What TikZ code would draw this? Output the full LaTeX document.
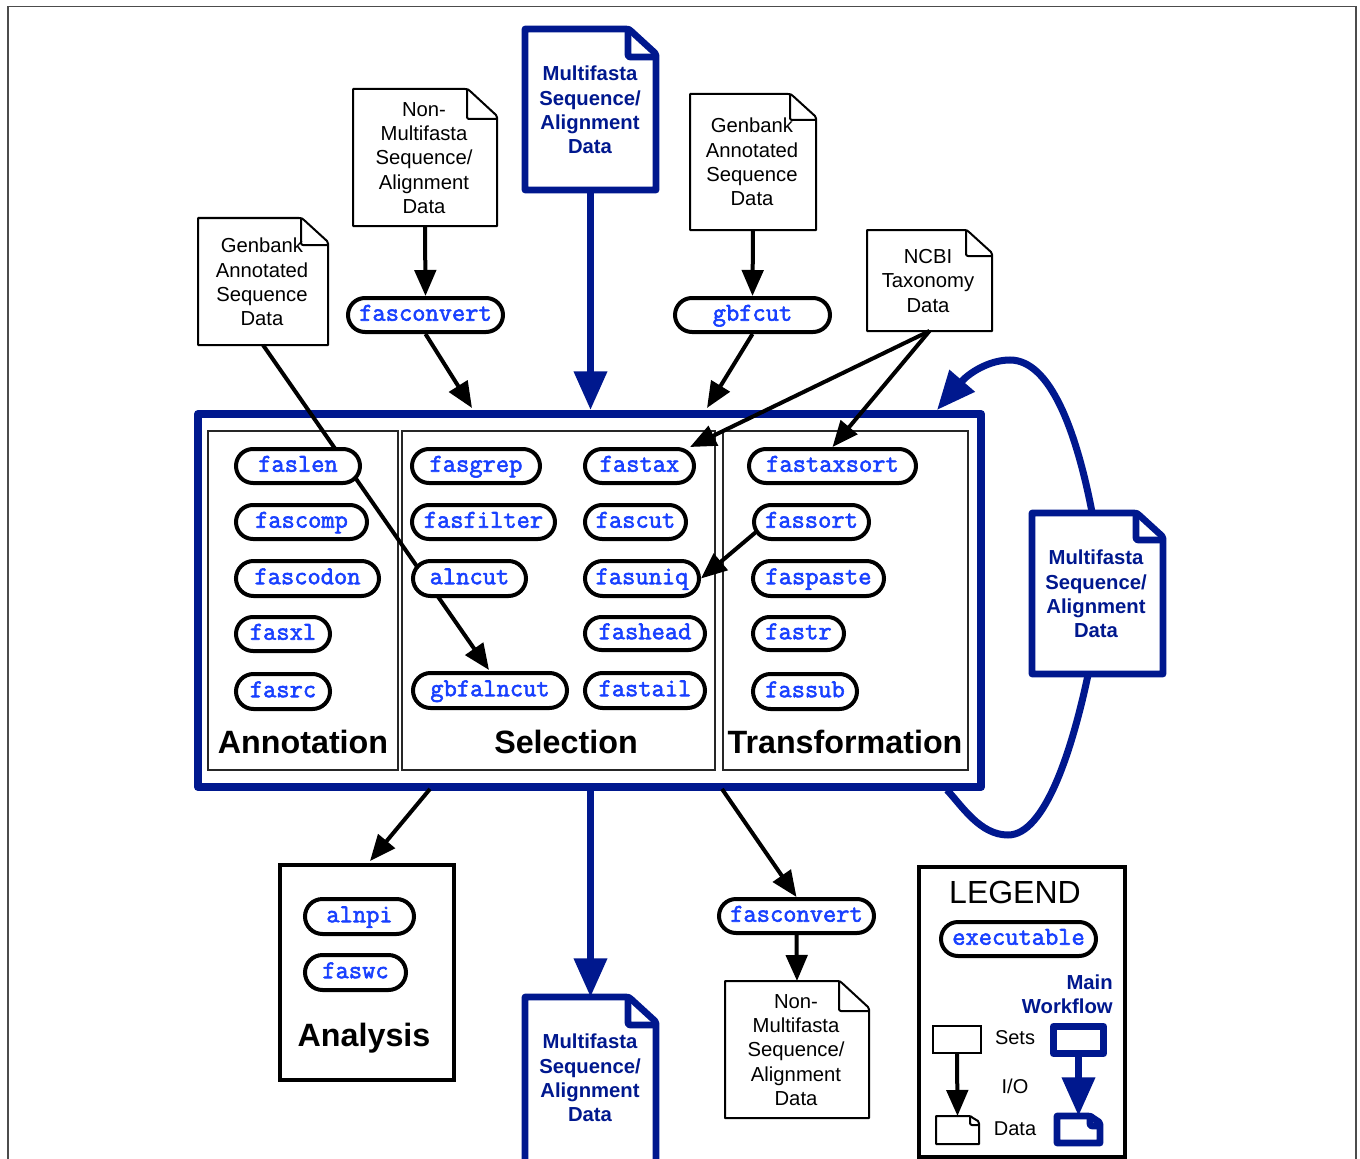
\documentclass[tikz,border=0pt]{standalone}
\usepackage{fontspec}
\setmainfont{Liberation Sans}
\newfontfamily\pillfont[FakeBold=2.2]{Latin Modern Mono}
\usetikzlibrary{arrows.meta,shapes.misc}
\definecolor{navy}{RGB}{0,24,142}
\definecolor{pillblue}{RGB}{24,64,255}
\tikzset{
  x=0.75pt,y=-0.75pt,
  anchorbox/.style={rectangle,draw=none,fill=none,inner sep=0pt,outer sep=0pt},
  pillnode/.style={rounded rectangle,draw=black,fill=white,line width=3pt,inner sep=0pt,
     text=pillblue,text height=8.6pt,text depth=0pt,
     font=\pillfont\fontsize{19.3}{20}\selectfont},
  doclbl/.style={align=center,inner sep=0pt,font=\fontsize{15.2}{18.25}\selectfont},
  mainlbl/.style={align=center,inner sep=0pt,text=navy,font=\bfseries\fontsize{15.2}{18.25}\selectfont},
  titlelbl/.style={inner sep=0pt,font=\bfseries\fontsize{24.2}{28}\selectfont},
  plainlbl/.style={inner sep=0pt,font=\fontsize{15}{18}\selectfont},
  docthin/.style={draw=black,fill=white,line width=1.5pt,line join=round},
  docthick/.style={draw=navy,fill=white,line width=5pt,line join=round},
  panel/.style={draw=black!85,line width=1.5pt,fill=white},
  blackarrow/.style={draw=black,line width=3pt,-{Triangle[length=19.5pt,width=16pt]}},
  bluearrow/.style={draw=navy,line width=5.25pt,-{Triangle[length=29pt,width=24pt]}},
  blueline/.style={draw=navy,line width=5.25pt},
}
% name x1 y1 x2 y2 fold style
\newcommand{\DocShape}[7]{%
  \draw[#7] (#2,#3) -- (#4-#6-2,#3) to[out=0,in=130] (#4-#6+3,#3+2) -- (#4-1,#3+#6-4) to[out=-50,in=90] (#4,#3+#6+2) -- (#4,#5) -- (#2,#5) -- cycle;
  \draw[#7,rounded corners=1.5pt,fill=none] (#4-#6,#3+1) -- (#4-#6,#3+#6) -- (#4-1,#3+#6);
  \pgfmathsetmacro{\cxv}{(#2+#4)/2}\pgfmathsetmacro{\cyv}{(#3+#5)/2}
  \pgfmathsetmacro{\wv}{(#4-#2)*0.75}\pgfmathsetmacro{\hv}{(#5-#3)*0.75}
  \node[anchorbox,minimum width=\wv pt,minimum height=\hv pt] (#1) at (\cxv,\cyv) {};
}
% name x1 x2 y1 y2 text
\newcommand{\Pill}[6]{%
  \pgfmathsetmacro{\cxv}{(#2+#3)/2}\pgfmathsetmacro{\cyv}{(#4+#5)/2}
  \pgfmathsetmacro{\wv}{(#3-#2-4)*0.75}\pgfmathsetmacro{\hv}{(#5-#4-4)*0.75}
  \node[pillnode,minimum width=\wv pt,minimum height=\hv pt] (#1) at (\cxv,\cyv) {#6};
}
\begin{document}
\begin{tikzpicture}
\useasboundingbox (0,0) rectangle (1360,1159);
\fill[white] (0,0) rectangle (1360,1159);
% outer frame
\draw[black!70,line width=1.2pt] (8,1159) -- (8,6.5) -- (1356,6.5) -- (1356,1159);

% main box
\node[rectangle,draw=navy,fill=white,line width=6pt,line join=round,inner sep=0pt,
      minimum width=587.25pt,minimum height=279.75pt] (main) at (589.5,600.5) {};
\node[panel,rectangle,inner sep=0pt,minimum width=142.5pt,minimum height=254.25pt] (pannot) at (303,600.5) {};
\node[panel,rectangle,inner sep=0pt,minimum width=234.75pt,minimum height=254.25pt] (psel) at (558.5,600.5) {};
\node[panel,rectangle,inner sep=0pt,minimum width=183.75pt,minimum height=254.25pt] (ptrans) at (845.5,600.5) {};
\node[titlelbl] (tannot) at (303,742) {Annotation};
\node[titlelbl] (tsel) at (566,742) {Selection};
\node[titlelbl] (ttrans) at (845,742) {Transformation};

% ports
\coordinate (inA) at (472,408);
\coordinate (inB) at (707,408);
\coordinate (inC) at (937,410);
\coordinate (outA) at (430,789);
\coordinate (outB) at (722,789);
\coordinate (outC) at (947,790);
\coordinate (fastaxIn) at (690,447);
\coordinate (fassortOut) at (756,532);
\coordinate (analysisIn) at (370,861);
\coordinate (loopTop) at (1092,512);
\coordinate (loopBot) at (1088,675);
\coordinate (gbfIn) at (489,670);

% feedback loop
\draw[blueline] (outC) .. controls (962,806) and (980,835) .. (1008,835)
   .. controls (1045,835) and (1072,750) .. (loopBot);
\draw[bluearrow] (loopTop) .. controls (1076,430) and (1050,360) .. (1010,360)
   .. controls (988,360) and (968,374) .. (inC);

% documents
\DocShape{nmt}{353}{89}{497}{226}{30}{docthin}
\node[doclbl] (nmttxt) at (424,158) {Non-\\Multifasta\\Sequence/\\Alignment\\Data};
\DocShape{mft}{525}{29}{656}{190}{28}{docthick}
\node[mainlbl] (mfttxt) at (590,110) {Multifasta\\Sequence/\\Alignment\\Data};
\DocShape{gbr}{690}{94}{816}{230}{26}{docthin}
\node[doclbl] (gbrtxt) at (752,162) {Genbank\\Annotated\\Sequence\\Data};
\DocShape{gbl}{198}{218}{328}{345}{27}{docthin}
\node[doclbl] (gbltxt) at (262,282) {Genbank\\Annotated\\Sequence\\Data};
\DocShape{ncbi}{867}{230}{992}{331}{26}{docthin}
\node[doclbl] (ncbitxt) at (928,281) {NCBI\\Taxonomy\\Data};
\DocShape{mfr}{1032}{513}{1163}{674}{27}{docthick}
\node[mainlbl] (mfrtxt) at (1096,594) {Multifasta\\Sequence/\\Alignment\\Data};
\DocShape{mfb}{525}{997}{656}{1190}{28}{docthick}
\node[mainlbl] (mfbtxt) at (590,1078) {Multifasta\\Sequence/\\Alignment\\Data};
\DocShape{nmb}{725}{981}{869}{1118}{30}{docthin}
\node[doclbl] (nmbtxt) at (796,1050) {Non-\\Multifasta\\Sequence/\\Alignment\\Data};

% line under the pills
\draw[blackarrow] (gbl.south) -- (gbfIn);

% analysis box
\node[rectangle,draw=black,fill=white,line width=3pt,inner sep=0pt,
      minimum width=130.5pt,minimum height=161.25pt] (analysis) at (367,972.5) {};
\node[titlelbl] (tana) at (364,1038) {Analysis};

% pills
\Pill{faslen}{234}{362}{447}{485}{faslen}
\Pill{fascomp}{234}{369}{503}{541}{fascomp}
\Pill{fascodon}{234}{381}{559}{598}{fascodon}
\Pill{fasxl}{234}{332}{615}{653}{fasxl}
\Pill{fasrc}{234}{332}{672}{711}{fasrc}
\Pill{fasgrep}{410}{542}{447}{485}{fasgrep}
\Pill{fasfilter}{410}{557}{503}{541}{fasfilter}
\Pill{alncut}{411}{528}{559}{598}{alncut}
\Pill{gbfalncut}{411}{569}{671}{710}{gbfalncut}
\Pill{fastax}{583}{696}{447}{485}{fastax}
\Pill{fascut}{583}{688}{503}{541}{fascut}
\Pill{fasuniq}{583}{701}{559}{598}{fasuniq}
\Pill{fashead}{583}{707}{615}{652}{fashead}
\Pill{fastail}{583}{707}{671}{710}{fastail}
\Pill{fastaxsort}{747}{918}{447}{485}{fastaxsort}
\Pill{fassort}{752}{871}{503}{541}{fassort}
\Pill{faspaste}{751}{886}{559}{598}{faspaste}
\Pill{fastr}{751}{846}{615}{652}{fastr}
\Pill{fassub}{751}{859}{672}{711}{fassub}
\Pill{fasconvA}{346}{505}{296}{334}{fasconvert}
\Pill{gbfcut}{673}{832}{296}{334}{gbfcut}
\Pill{alnpi}{303}{416}{897}{936}{alnpi}
\Pill{faswc}{303}{408}{953}{992}{faswc}
\Pill{fasconvB}{717}{876}{897}{935}{fasconvert}

% connectors
\draw[blackarrow] (nmt.south) -- (fasconvA.north);
\draw[blackarrow] (fasconvA.south) -- (inA);
\draw[blackarrow] (gbr.south) -- (gbfcut.north);
\draw[blackarrow] (gbfcut.south) -- (inB);
\draw[blackarrow] (ncbi.south) -- (fastaxIn);
\draw[blackarrow] (ncbi.south) -- (fastaxsort.north);
\draw[blackarrow] (fassortOut) -- (fasuniq.east);
\draw[blackarrow] (outA) -- (analysisIn);
\draw[blackarrow] (outB) -- (fasconvB.north);
\draw[blackarrow] (fasconvB.south) -- (nmb.north);
\draw[bluearrow] (mft.south) -- (mft.south |- main.north);
\draw[bluearrow] (mfb.north |- main.south) -- (mfb.north);

% legend
\node[rectangle,draw=black,fill=white,line width=3pt,inner sep=0pt,
      minimum width=154.5pt,minimum height=217.5pt] (legend) at (1022,1012) {};
\node[inner sep=0pt,font=\fontsize{24}{28}\selectfont] (legtitle) at (1015,892) {LEGEND};
\Pill{execu}{939}{1098}{920}{958}{executable}
\node[mainlbl,align=right,anchor=east] (mwf) at (1113,994) {Main\\Workflow};
\node[plainlbl] (lsets) at (1015,1038) {Sets};
\node[plainlbl] (lio) at (1015,1086) {I/O};
\node[plainlbl] (ldata) at (1015,1129) {Data};
\node[rectangle,draw=black,fill=white,line width=1.5pt,inner sep=0pt,
      minimum width=36pt,minimum height=20.25pt] (lgset) at (957,1039.5) {};
\DocShape{lgdoc}{936}{1116}{979}{1144}{9}{docthin}
\draw[blackarrow] (lgset.south) -- (lgdoc.north);
\node[rectangle,draw=navy,fill=white,line width=5.25pt,line join=round,inner sep=0pt,
      minimum width=37.5pt,minimum height=20.25pt] (lgmset) at (1078.5,1040) {};
\DocShape{lgmdoc}{1057}{1116}{1100}{1143}{10}{docthick}
\draw[bluearrow] (lgmset.south) -- (lgmdoc.north);
\end{tikzpicture}
\end{document}
